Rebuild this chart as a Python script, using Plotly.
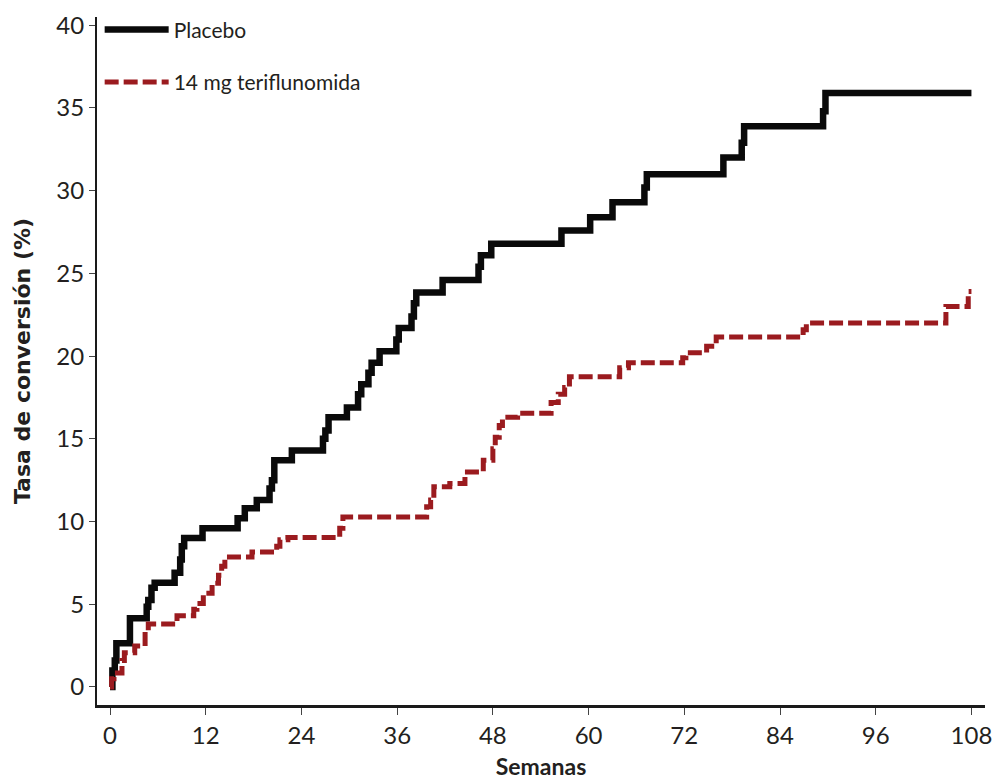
import plotly.graph_objects as go

# ---- data ----
placebo_weeks = [0, 0.3, 0.6, 0.8, 2.5, 4.6, 4.8, 5.2, 5.6, 8.1, 8.8, 9.0, 9.3, 11.6,
                 16.0, 16.9, 18.4, 20.0, 20.3, 20.6, 22.8, 26.7, 27.0, 27.4, 29.7,
                 31.1, 31.5, 32.4, 32.8, 33.8, 35.9, 36.2, 37.8, 38.1, 38.4, 41.7,
                 46.2, 46.5, 47.8, 56.6, 60.2, 63.0, 67.0, 67.3, 76.9, 79.2, 79.5,
                 89.4, 89.7, 108]
placebo_rate = [0, 1.0, 1.6, 2.65, 4.15, 4.85, 5.25, 6.0, 6.3, 6.9, 7.7, 8.5, 9.0, 9.6,
                10.2, 10.8, 11.3, 12.0, 12.5, 13.7, 14.3, 15.0, 15.5, 16.3, 16.9,
                17.7, 18.3, 19.0, 19.6, 20.3, 21.0, 21.7, 22.4, 23.2, 23.85, 24.6,
                25.4, 26.1, 26.8, 27.6, 28.4, 29.3, 30.2, 31.0, 32.0, 32.9, 33.9,
                34.8, 35.9, 35.9]

teri_weeks = [0, 0.2, 0.5, 1.5, 1.8, 3.1, 4.4, 4.8, 8.4, 10.5, 10.9, 11.7, 12.8, 13.6,
              14.0, 14.4, 17.8, 20.9, 21.3, 22.3, 28.8, 29.2, 39.7, 40.2, 40.6, 42.6,
              44.5, 46.8, 48.0, 48.3, 48.8, 49.2, 51.1, 55.3, 56.2, 57.0, 57.6, 63.9,
              65.0, 71.8, 72.2, 74.8, 76.0, 86.9, 87.3, 104.8, 107.6, 108]
teri_rate = [0, 0.5, 0.85, 1.6, 2.07, 2.47, 3.34, 3.8, 4.3, 4.7, 5.05, 5.66, 6.27, 6.75,
             7.3, 7.86, 8.16, 8.5, 8.9, 9.03, 9.6, 10.27, 10.9, 11.3, 12.1, 12.3,
             13.0, 13.7, 14.4, 15.1, 15.8, 16.3, 16.55, 17.2, 17.7, 18.1, 18.76, 19.3,
             19.6, 19.9, 20.2, 20.6, 21.15, 21.6, 22.0, 23.0, 23.9, 23.9]

x_ticks = [0, 12, 24, 36, 48, 60, 72, 84, 96, 108]
y_ticks = [0, 5, 10, 15, 20, 25, 30, 35, 40]

TXT = "#231f20"
BLACK = "#0a0a0a"
RED = "#9b1b1f"

fig = go.Figure()
fig.add_trace(go.Scatter(
    x=placebo_weeks, y=placebo_rate, mode="lines", name="Placebo",
    legendgroup="a",
    line=dict(shape="hv", color=BLACK, width=6.5),
))
fig.add_trace(go.Scatter(
    x=teri_weeks, y=teri_rate, mode="lines", name="14 mg teriflunomida",
    legendgroup="b",
    line=dict(shape="hv", color=RED, width=5, dash="14px,5px"),
))

fig.update_layout(
    width=994, height=780,
    margin=dict(l=97, r=9, t=15, b=75),
    paper_bgcolor="white", plot_bgcolor="white",
    font=dict(family="Lato, sans-serif", color=TXT),
    showlegend=True,
    legend=dict(
        x=0.003, y=1.011, xanchor="left", yanchor="top",
        font=dict(family="Lato", size=21, color=TXT),
        bgcolor="rgba(0,0,0,0)", tracegroupgap=22, itemwidth=64,
    ),
    annotations=[dict(
        text="<b>Pacientes en riesgo</b>", xref="paper", yref="paper",
        x=-0.055, y=-0.099, xanchor="right", yanchor="top", showarrow=False,
        font=dict(family="Lato", size=21, color=TXT),
    )],
)

fig.update_xaxes(
    range=[-1.63, 109.7], tickvals=x_ticks, ticktext=[str(v) for v in x_ticks],
    ticks="outside", ticklen=7, tickwidth=1.2, tickcolor="#444",
    showline=True, linewidth=3, linecolor="#1a1a1a",
    showgrid=False, zeroline=False,
    tickfont=dict(family="Lato", size=24, color=TXT),
    title=dict(text="<b>Semanas</b>", standoff=14,
               font=dict(family="Lato", size=23, color=TXT)),
    automargin=False,
)
fig.update_yaxes(
    range=[-1.09, 40.5], tickvals=y_ticks, ticktext=[str(v) for v in y_ticks],
    ticks="outside", ticklen=6, tickwidth=1.2, tickcolor="#444",
    showline=True, linewidth=2, linecolor="#1a1a1a",
    showgrid=False, zeroline=False,
    tickfont=dict(family="Lato", size=24, color=TXT),
    title=dict(text="<b>Tasa de conversión (%)</b>", standoff=20,
               font=dict(family="DejaVu Sans", size=22, color=TXT)),
    automargin=False,
)

# remove the default 8px page margin so the 994x780 figure fills the window exactly
fig.write_html("out.html",
               config={"displayModeBar": False},
               post_script="document.body.style.margin='0';document.body.style.overflow='hidden';")
